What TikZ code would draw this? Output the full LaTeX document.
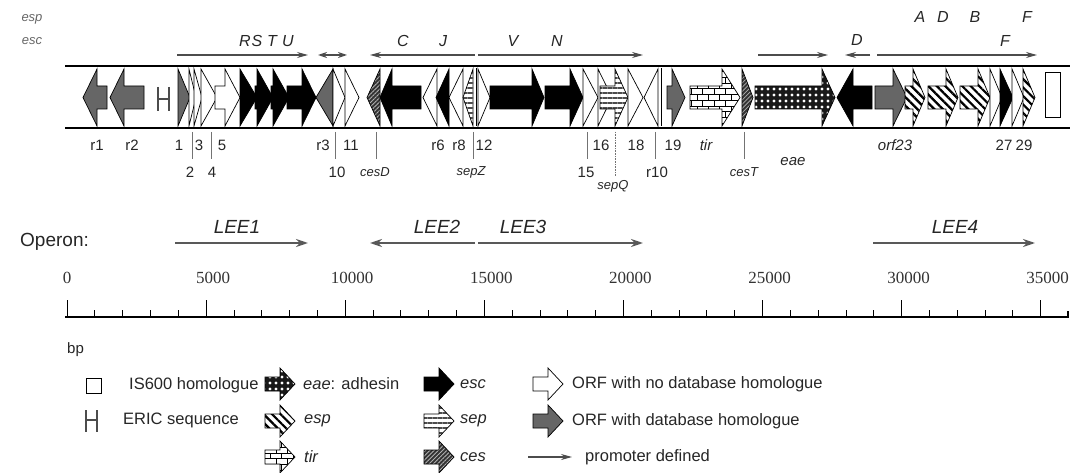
\documentclass[tikz,border=0pt]{standalone}
\usepackage{fontspec}
\setmainfont{Liberation Serif}
\setsansfont{Liberation Sans}
\usetikzlibrary{arrows.meta,patterns,patterns.meta}

% gene arrows: style, start, head base, tip
\newcommand{\rgene}[4]{\draw [#1] (#2, 86) -- (#3, 86) -- (#3, 69) -- (#4, 97.5) -- (#3, 126) -- (#3, 109) -- (#2, 109) -- cycle;}
\newcommand{\lgene}[4]{\draw [#1] (#4, 86) -- (#3, 86) -- (#3, 69) -- (#2, 97.5) -- (#3, 126) -- (#3, 109) -- (#4, 109) -- cycle;}
% legend arrows: style, left x, centre y
\newcommand{\legarr}[3]{\draw [#1] (#2, #3-7) -- (#2+15, #3-7) -- (#2+15, #3-16) -- (#2+30, #3) -- (#2+15, #3+16) -- (#2+15, #3+7) -- (#2, #3+7) -- cycle;}

\tikzset{
	gene/.style={draw=black, line width=0.7pt},
	escg/.style={gene, fill=black},
	orfg/.style={gene, fill=white},
	homg/.style={gene, fill=black!60},
	espg/.style={gene, preaction={fill=white}, pattern={Lines[angle=-45, distance=6pt, line width=2.2pt]}},
	cesg/.style={gene, preaction={fill=black!80}, pattern={Lines[angle=45, distance=3pt, line width=0.8pt]}, pattern color=white!70!black},
	sepg/.style={gene, preaction={fill=white}, pattern={Lines[angle=0, distance=5pt, line width=2pt]}, pattern color=black!70},
	tirg/.style={gene, preaction={fill=white}, pattern=bricks},
	eaeg/.style={gene, preaction={fill=black!90}, pattern={Dots[distance=6pt, radius=1.6pt]}, pattern color=white},
	lbl/.style={font=\sffamily\fontsize{15}{15}\selectfont, text=black!85, inner sep=0pt},
	sml/.style={font=\sffamily\itshape\fontsize{13}{13}\selectfont, text=black!85, inner sep=0pt},
	ltr/.style={font=\sffamily\itshape\fontsize{16}{16}\selectfont, text=black!85, inner sep=0pt},
	opr/.style={font=\sffamily\itshape\fontsize{19}{19}\selectfont, text=black!85, inner sep=0pt},
	leg/.style={font=\sffamily\fontsize{16.5}{16.5}\selectfont, text=black!85, anchor=west, inner sep=0pt},
	num/.style={font=\rmfamily\fontsize{17}{17}\selectfont, text=black!80, inner sep=0pt},
	tickmark/.style={draw=black!55, line width=0.6pt},
	prom/.style={draw=black!70, line width=1.2pt, -{Stealth[length=11pt, width=6pt]}},
	lee/.style={draw=black!65, line width=2.2pt, -{Stealth[length=12pt, width=8pt]}}
}

\begin{document}
\begin{tikzpicture}[x=1pt, y=-1pt]
	\useasboundingbox (0, 0) rectangle (1081, 473);

	% gene groups
	\node [sml, text=black!60] (esp) at (32, 19) {esp};
	\node [sml, text=black!60] (esc) at (32, 41) {esc};
	\foreach \x/\t/\n in {245/R/gR, 257/S/gS, 272/T/gT, 288/U/gU, 403/C/gC, 443/J/gJ, 513/V/gV, 557/N/gN, 1005/F/gF}
		\node [ltr] (\n) at (\x, 41) {\t};
	\foreach \x/\t/\n in {920/A/pA, 943/D/pD, 975/B/pB, 1027/F/pF}
		\node [ltr] (\n) at (\x, 17) {\t};
	\node [ltr] (cD) at (857, 40) {D};

	% promoters
	\draw [prom] (177, 55) -- (308, 55);
	\draw [prom, {Stealth[length=9pt, width=6pt]}-{Stealth[length=9pt, width=6pt]}] (318, 55) -- (347, 55);
	\draw [prom] (475, 55) -- (370, 55);
	\draw [prom] (478, 55) -- (643, 55);
	\draw [prom] (758, 55) -- (828, 55);
	\draw [prom] (870, 55) -- (845, 55);
	\draw [prom] (877, 55) -- (1037, 55);

	% the island
	\draw [line width=2.2pt] (65, 66) -- (1070, 66);
	\draw [line width=2.2pt] (65, 128) -- (1070, 128);

	\lgene{homg}{83}{97}{107}
	\lgene{homg}{110}{124}{144}
	\draw [draw=black!70, line width=1.6pt] (158, 87) -- (158, 111) (169, 87) -- (169, 111) (158, 99) -- (169, 99);
	\rgene{homg}{178}{178}{190}
	\rgene{orfg}{189}{189}{196}
	\rgene{orfg}{194}{194}{202}
	\rgene{orfg}{201}{201}{217}
	\rgene{orfg}{215}{225}{240}
	\rgene{escg}{240}{240}{257}
	\rgene{escg}{255}{257}{273}
	\rgene{escg}{271}{273}{289}
	\rgene{escg}{287}{302}{316}
	\lgene{homg}{316}{333}{333}
	\rgene{orfg}{333}{333}{345}
	\rgene{orfg}{345}{345}{359}
	\lgene{cesg}{367}{380}{380}
	\lgene{escg}{380}{392}{421}
	\lgene{orfg}{423}{437}{437}
	\lgene{escg}{436}{449}{449}
	\lgene{orfg}{449}{463}{463}
	\lgene{sepg}{463}{473}{473}
	\draw [gene] (476, 68) -- (476, 126);
	\rgene{orfg}{478}{478}{490}
	\rgene{escg}{490}{532}{544}
	\rgene{escg}{545}{570}{583}
	\rgene{orfg}{583}{583}{598}
	\rgene{orfg}{598}{598}{612}
	\rgene{sepg}{600}{615}{628}
	\rgene{orfg}{628}{628}{643}
	\lgene{orfg}{644}{658}{658}
	\draw [gene] (661, 68) -- (661, 126);
	\rgene{homg}{667}{672}{685}
	\rgene{tirg}{690}{722}{740}
	\rgene{cesg}{742}{742}{753}
	\rgene{eaeg}{755}{822}{835}
	\lgene{escg}{837}{853}{872}
	\rgene{homg}{875}{893}{907}
	\rgene{espg}{905}{913}{925}
	\rgene{espg}{928}{946}{958}
	\rgene{espg}{960}{978}{990}
	\rgene{orfg}{990}{990}{1002}
	\rgene{escg}{1000}{1000}{1013}
	\rgene{orfg}{1012}{1012}{1024}
	\rgene{espg}{1023}{1023}{1035}
	\draw [line width=1pt, fill=white] (1045, 73) rectangle (1060, 118);

	% gene numbers
	\foreach \x/\t/\n in {97/r1/lr1, 132/r2/lr2, 179/1/l1, 199/3/l3, 222/5/l5, 323/r3/lr3, 351/11/l11, 438/r6/lr6, 459/r8/lr8, 484/12/l12, 601/16/l16, 636/18/l18, 673/19/l19, 1004/27/l27, 1024/29/l29}
		\node [lbl] (\n) at (\x, 145) {\t};
	\node [lbl, font=\sffamily\itshape\fontsize{15}{15}\selectfont] (ltir) at (706, 145) {tir};
	\node [lbl, font=\sffamily\itshape\fontsize{15}{15}\selectfont] (lorf) at (895, 145) {orf23};
	\foreach \x in {192, 211, 335, 376, 473, 587, 655, 744}
		\draw [tickmark] (\x, 132) -- (\x, 159);
	\draw [tickmark, densely dotted] (615, 132) -- (615, 176);
	\foreach \x/\t/\n in {190/2/l2, 212/4/l4, 337/10/l10, 586/15/l15, 657/r10/lr10}
		\node [lbl] (\n) at (\x, 172) {\t};
	\node [sml] (lcesD) at (375, 172) {cesD};
	\node [sml] (lsepZ) at (471, 172) {sepZ};
	\node [sml] (lsepQ) at (613, 186) {sepQ};
	\node [sml] (lcesT) at (744, 172) {cesT};
	\node [sml, font=\sffamily\itshape\fontsize{15}{15}\selectfont] (leae) at (793, 162) {eae};

	% operons
	\node [lbl, anchor=west, font=\sffamily\fontsize{19}{19}\selectfont] (oper) at (20, 242) {Operon:};
	\draw [lee] (175, 243) -- (308, 243);
	\draw [lee] (475, 243) -- (370, 243);
	\draw [lee] (478, 243) -- (643, 243);
	\draw [lee] (873, 243) -- (1035, 243);
	\node [opr] (lee1) at (237, 227) {LEE1};
	\node [opr] (lee2) at (437, 227) {LEE2};
	\node [opr] (lee3) at (523, 227) {LEE3};
	\node [opr] (lee4) at (955, 227) {LEE4};

	% scale
	\foreach \i/\v in {0/0, 1/5000, 2/10000, 3/15000, 4/20000, 5/25000, 6/30000, 7/35000}
		\node [num] (n\i) at ({67 + \i*139.1 + (\i>0)*7}, 278) {\v};
	\draw [line width=1.2pt] (65, 317) -- (1068, 317) -- ++(0, -6);
	\foreach \i in {0, ..., 35}
		\draw [line width=0.8pt] ({67 + \i*27.82}, 317) -- ++(0, -7);
	\foreach \i in {0, 5, ..., 35}
		\draw [line width=0.8pt] ({67 + \i*27.82}, 317) -- ++(0, -17);
	\node [lbl, anchor=west] (bp) at (67, 350) {bp};

	% legend
	\draw [line width=1pt] (86, 378) rectangle (101, 393);
	\node [leg] (tis) at (129, 385) {IS600 homologue};
	\draw [draw=black!70, line width=1.6pt] (86, 410) -- (86, 432) (97, 410) -- (97, 432) (86, 420) -- (97, 420);
	\node [leg] (teric) at (123, 420) {ERIC sequence};
	\legarr{eaeg}{265}{384}
	\node [leg] (teae) at (303, 384) {\textit{eae}: adhesin};
	\legarr{espg}{265}{421}
	\node [leg] (tesp) at (304, 421) {\textit{esp}};
	\legarr{tirg}{265}{457}
	\node [leg] (ttir) at (304, 457) {\textit{tir}};
	\legarr{escg}{424}{384}
	\node [leg] (tesc) at (460, 384) {\textit{esc}};
	\legarr{sepg}{424}{421}
	\node [leg] (tsep) at (460, 421) {\textit{sep}};
	\legarr{cesg}{424}{457}
	\node [leg] (tces) at (460, 457) {\textit{ces}};
	\legarr{orfg}{533}{384}
	\node [leg] (tnohom) at (572, 384) {ORF with no database homologue};
	\legarr{homg}{533}{421}
	\node [leg] (thom) at (572, 421) {ORF with database homologue};
	\coordinate (pa) at (528, 457);
	\coordinate (pb) at (572, 457);
	\draw [prom] (pa) -- (pb);
	\node [leg] (tprom) at (585, 457) {promoter defined};
\end{tikzpicture}
\end{document}
